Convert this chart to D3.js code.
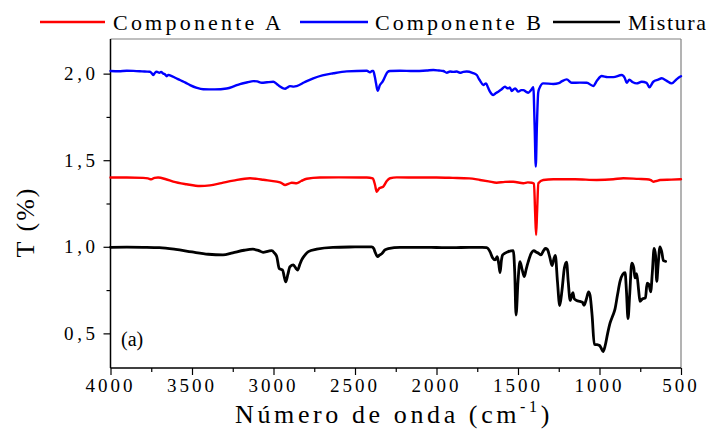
<!DOCTYPE html>
<html>
<head>
<meta charset="utf-8">
<script src="https://cdn.jsdelivr.net/npm/d3@7"></script>
<style>
  html, body { margin: 0; padding: 0; background: #fff; }
  svg { display: block; }
  svg text { font-family: "Liberation Serif", "DejaVu Serif", serif !important; }
</style>
</head>
<body>
<svg id="chart" width="715" height="432"></svg>
<script>
// FTIR spectra: [wavenumber (cm-1), T]
const componenteA = [
  [4000,1.40],[3900,1.40],[3800,1.398],[3770,1.395],[3750,1.39],[3730,1.398],[3708,1.40],[3660,1.39],
  [3615,1.376],[3533,1.361],[3451,1.351],[3390,1.355],[3320,1.368],[3247,1.382],[3144,1.396],[3100,1.392],
  [3063,1.387],[2980,1.376],[2950,1.368],[2929,1.357],[2905,1.365],[2888,1.37],[2858,1.367],[2830,1.38],
  [2796,1.393],[2715,1.40],[2600,1.401],[2428,1.40],[2391,1.395],[2377,1.357],[2367,1.318],[2351,1.338],
  [2327,1.347],[2305,1.38],[2285,1.396],[2244,1.401],[2100,1.40],[2000,1.40],[1900,1.398],[1800,1.395],
  [1733,1.386],[1680,1.378],[1631,1.370],[1580,1.375],[1529,1.376],[1467,1.367],[1440,1.372],[1416,1.37],
  [1402,1.365],[1395,1.2],[1389,1.068],[1383,1.2],[1375,1.367],[1345,1.386],[1283,1.39],[1150,1.39],
  [1017,1.386],[915,1.39],[854,1.396],[760,1.392],[711,1.39],[685,1.385],[670,1.376],[650,1.38],
  [629,1.386],[560,1.388],[500,1.39]
];

const componenteB = [
  [4000,2.015],[3950,2.014],[3900,2.017],[3860,2.016],[3820,2.014],[3790,2.012],[3758,2.011],[3745,2.0],
  [3737,1.992],[3727,2.005],[3717,2.011],[3700,2.005],[3690,2.01],[3676,2.0],[3665,1.995],[3655,1.985],
  [3645,1.993],[3635,1.99],[3600,1.975],[3574,1.963],[3540,1.948],[3512,1.934],[3470,1.918],[3431,1.910],
  [3360,1.909],[3287,1.914],[3240,1.928],[3206,1.940],[3160,1.950],[3124,1.957],[3100,1.955],[3072,1.947],
  [3040,1.95],[3001,1.953],[2980,1.94],[2960,1.925],[2940,1.915],[2929,1.913],[2915,1.92],[2899,1.928],
  [2875,1.925],[2858,1.928],[2810,1.95],[2756,1.973],[2700,1.99],[2633,2.002],[2551,2.013],[2428,2.017],
  [2408,2.008],[2395,2.015],[2388,2.015],[2378,1.98],[2371,1.944],[2361,1.901],[2347,1.934],[2330,1.955],
  [2316,1.982],[2300,2.01],[2285,2.015],[2224,2.017],[2142,2.015],[2060,2.018],[2019,2.021],[1985,2.018],
  [1958,2.015],[1937,2.005],[1917,2.012],[1897,2.01],[1876,2.012],[1856,2.005],[1836,2.01],[1815,2.012],
  [1780,2.005],[1753,1.992],[1740,1.97],[1733,1.96],[1713,1.934],[1696,1.944],[1684,1.92],[1672,1.896],
  [1652,1.877],[1635,1.888],[1621,1.896],[1600,1.91],[1580,1.925],[1570,1.918],[1560,1.915],[1550,1.92],
  [1539,1.90],[1518,1.915],[1498,1.896],[1480,1.905],[1467,1.905],[1450,1.895],[1437,1.89],[1420,1.905],
  [1406,1.921],[1398,1.7],[1391,1.463],[1384,1.7],[1376,1.89],[1369,1.915],[1345,1.944],[1283,1.94],
  [1250,1.945],[1232,1.955],[1201,1.967],[1171,1.947],[1120,1.948],[1078,1.947],[1038,1.929],[1015,1.96],
  [987,1.986],[950,1.98],[915,1.98],[864,1.992],[845,1.975],[833,1.947],[817,1.965],[795,1.95],
  [772,1.944],[741,1.953],[711,1.947],[694,1.921],[670,1.953],[640,1.965],[618,1.973],[590,1.96],
  [557,1.944],[530,1.965],[506,1.982],[500,1.985]
];

const mistura = [
  [4000,0.997],[3900,0.998],[3800,0.997],[3700,0.995],[3600,0.985],[3500,0.97],[3400,0.957],[3310,0.953],
  [3250,0.965],[3180,0.98],[3126,0.986],[3090,0.978],[3064,0.968],[3030,0.975],[3011,0.978],[2995,0.965],
  [2980,0.943],[2965,0.875],[2955,0.87],[2944,0.866],[2935,0.83],[2925,0.797],[2912,0.84],[2899,0.885],
  [2878,0.895],[2862,0.875],[2852,0.866],[2838,0.9],[2827,0.924],[2805,0.955],[2786,0.972],[2735,0.986],
  [2635,0.997],[2500,0.999],[2398,1.0],[2385,0.99],[2377,0.97],[2361,0.943],[2350,0.952],[2336,0.96],
  [2316,0.982],[2296,0.99],[2224,0.997],[2100,0.997],[2000,0.996],[1900,0.995],[1800,0.997],[1720,0.997],
  [1692,0.995],[1672,0.972],[1655,0.935],[1641,0.924],[1627,0.943],[1618,0.9],[1610,0.851],[1602,0.92],
  [1594,0.953],[1560,0.972],[1529,0.978],[1520,0.85],[1512,0.606],[1500,0.8],[1488,0.914],[1475,0.87],
  [1461,0.828],[1450,0.87],[1437,0.914],[1420,0.96],[1402,0.978],[1390,0.97],[1375,0.963],[1359,0.953],
  [1345,0.975],[1332,0.99],[1320,0.985],[1305,0.94],[1291,0.891],[1280,0.93],[1271,0.95],[1258,0.8],
  [1244,0.661],[1230,0.75],[1215,0.88],[1202,0.911],[1192,0.8],[1180,0.69],[1170,0.72],[1163,0.735],
  [1155,0.7],[1140,0.69],[1120,0.685],[1105,0.68],[1095,0.662],[1080,0.7],[1067,0.74],[1058,0.72],
  [1045,0.6],[1032,0.436],[1015,0.435],[1000,0.43],[990,0.415],[978,0.395],[965,0.43],[950,0.5],
  [935,0.56],[917,0.606],[905,0.64],[890,0.72],[874,0.8],[858,0.84],[843,0.85],[835,0.75],
  [825,0.585],[815,0.72],[802,0.905],[790,0.88],[782,0.82],[772,0.845],[760,0.75],[752,0.685],
  [735,0.7],[718,0.705],[708,0.79],[697,0.783],[686,0.74],[676,0.85],[665,0.99],[656,0.95],
  [649,0.8],[640,0.9],[629,1.0],[618,0.97],[608,0.92],[594,0.916]
];

const seriesNames = ["Componente A", "Componente B", "Mistura"];
const seriesColors = ["#ff0000", "#0000ff", "#000000"];
const xTicks = [4000, 3500, 3000, 2500, 2000, 1500, 1000, 500];
const yTicks = [0.5, 1.0, 1.5, 2.0];

const svg = d3.select("#chart");
const plotLeft = 110.5, plotRight = 681, plotTop = 39, plotBottom = 368;

const x = d3.scaleLinear().domain([4000, 500]).range([plotLeft, plotRight]);
const y = d3.scaleLinear().domain([0.3, 2.2]).range([plotBottom, plotTop]);

const fmt = v => d3.format(".1f")(v).replace(".", ",");
const addText = (sel) => sel.append("text").attr("fill", "#000");

// frame: top and right edges in gray
svg.append("line").attr("x1", plotLeft).attr("x2", plotRight).attr("y1", plotTop).attr("y2", plotTop)
  .attr("stroke", "#808080").attr("stroke-width", 1.2);
svg.append("line").attr("x1", plotRight).attr("x2", plotRight).attr("y1", plotTop).attr("y2", plotBottom)
  .attr("stroke", "#808080").attr("stroke-width", 1.2);

// x axis
const xAxis = svg.append("g").attr("transform", `translate(0,${plotBottom})`)
  .call(d3.axisBottom(x).tickValues(d3.range(4000, 499, -250)).tickSize(4).tickFormat(""));
xAxis.selectAll(".tick line").attr("y2", d => d % 500 === 0 ? 7 : 4).attr("stroke-width", 1.2);
xAxis.select(".domain").attr("d", `M${plotLeft},0H${plotRight}`).attr("stroke-width", 1.5);

const xLabels = svg.append("g");
xTicks.forEach(t => {
  addText(xLabels).attr("x", x(t)).attr("y", 392).attr("text-anchor", "middle")
    .attr("font-size", 19).attr("letter-spacing", 3).text(t);
});

// y axis
const yAxis = svg.append("g").attr("transform", `translate(${plotLeft},0)`)
  .call(d3.axisLeft(y).tickValues([0.5, 0.75, 1.0, 1.25, 1.5, 1.75, 2.0]).tickSize(4).tickFormat(""));
yAxis.selectAll(".tick line").attr("x2", d => Math.abs(d * 2 - Math.round(d * 2)) < 1e-9 ? -7 : -4)
  .attr("stroke-width", 1.2);
yAxis.select(".domain").attr("d", `M0,${plotTop}V${plotBottom}`).attr("stroke-width", 1.5);

const yLabels = svg.append("g");
yTicks.forEach(t => {
  addText(yLabels).attr("x", 95).attr("y", y(t) + 6.5).attr("text-anchor", "end")
    .attr("font-size", 19).attr("textLength", 31).attr("lengthAdjust", "spacing").text(fmt(t));
});

// axis titles
const xt = addText(svg).attr("x", 394).attr("y", 423).attr("text-anchor", "middle")
  .attr("font-size", 26).attr("letter-spacing", 3.6);
xt.append("tspan").text("Número de onda (cm");
xt.append("tspan").attr("font-size", 16).attr("dy", -11).text("-1");
xt.append("tspan").attr("dy", 11).text(")");

addText(svg).attr("transform", "translate(34,222) rotate(-90)").attr("text-anchor", "middle")
  .attr("font-size", 26).attr("letter-spacing", 2).text("T (%)");

addText(svg).attr("x", 121).attr("y", 346).attr("font-size", 20).text("(a)");

// spectra
const line = d3.line().x(d => x(d[0])).y(d => y(d[1])).curve(d3.curveMonotoneX);
const allSeries = [componenteA, componenteB, mistura];
allSeries.forEach((s, i) => {
  svg.append("path").datum(s).attr("d", line).attr("fill", "none")
    .attr("stroke", seriesColors[i]).attr("stroke-width", i === 2 ? 2.8 : 2.4)
    .attr("stroke-linejoin", "round").attr("stroke-linecap", "round");
});

// legend
const legendPos = [
  { x1: 40, x2: 105, tx: 113, w: 168 },
  { x1: 300, x2: 368, tx: 375, w: 166 },
  { x1: 553, x2: 620, tx: 628, w: 78 }
];
legendPos.forEach((p, i) => {
  svg.append("line").attr("x1", p.x1).attr("x2", p.x2).attr("y1", 22).attr("y2", 22)
    .attr("stroke", seriesColors[i]).attr("stroke-width", 2.4);
  addText(svg).attr("x", p.tx).attr("y", 30).attr("font-size", 22)
    .attr("textLength", p.w).attr("lengthAdjust", "spacing").text(seriesNames[i]);
});
</script>
</body>
</html>
